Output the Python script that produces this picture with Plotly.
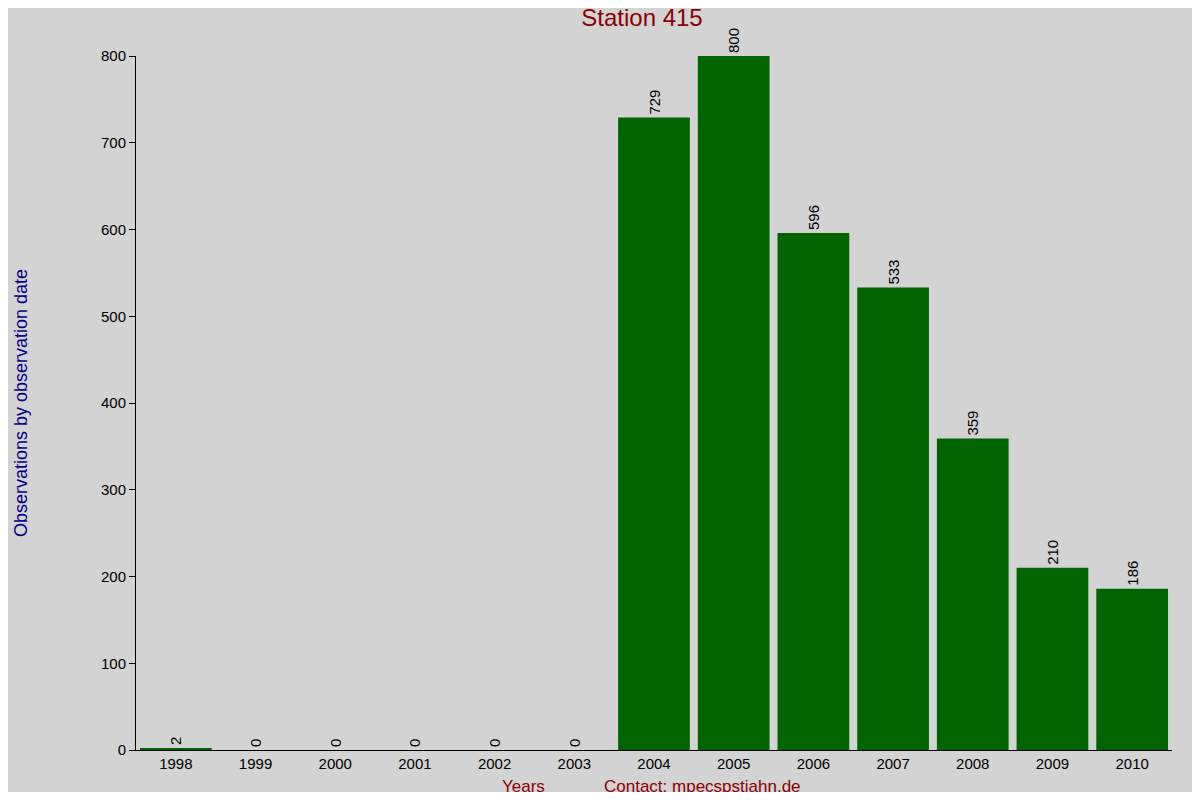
import plotly.graph_objects as go

years = ["1998","1999","2000","2001","2002","2003","2004","2005","2006","2007","2008","2009","2010"]
counts = [2,0,0,0,0,0,729,800,596,533,359,210,186]

W, H = 1184, 784
L, R, T, B = 118, 20, 48, 42
pw, ph = W - L - R, H - T - B

fig = go.Figure(go.Bar(
    x=years, y=counts, width=0.9, marker_color="#006400", marker_line_width=0,
    text=[str(c) for c in counts], textposition="outside", textangle=-90,
    textfont=dict(color="black", size=15), cliponaxis=False))

fig.update_layout(
    width=W, height=H, paper_bgcolor="#d3d3d3", plot_bgcolor="#d3d3d3",
    font=dict(family="Liberation Sans, Arial, sans-serif", size=15, color="black"),
    margin=dict(l=L, r=R, t=T, b=B),
    showlegend=False,
    title=dict(text="Station 415", x=(642 - 8) / W, xanchor="center", y=1 - 10 / H, yanchor="middle",
               font=dict(size=24, color="#8b0000")),
    xaxis=dict(type="category", range=[-0.5, 12.5], showgrid=False, showline=True,
               linecolor="black", ticks="", tickfont=dict(size=15)),
    yaxis=dict(range=[0, 800], dtick=100, showgrid=False, showline=True, linecolor="black",
               ticks="outside", ticklen=6, tickcolor="black", zeroline=False,
               tickfont=dict(size=15),
               title=dict(text="Observations by observation date", standoff=68,
                          font=dict(size=18, color="#00008b"))),
    annotations=[
        dict(text="Years", x=(517 - 8 - L) / pw, xref="paper", y=-(778 - 742) / ph, yref="paper",
             showarrow=False, yanchor="middle", font=dict(size=17, color="#8b0000")),
        dict(text="Contact: mpecspstjahn.de", x=(698 - 8 - L) / pw, xref="paper",
             y=-(778 - 742) / ph, yref="paper", showarrow=False, yanchor="middle",
             font=dict(size=17, color="#8b0000")),
    ],
)
fig.write_html("out.html")
